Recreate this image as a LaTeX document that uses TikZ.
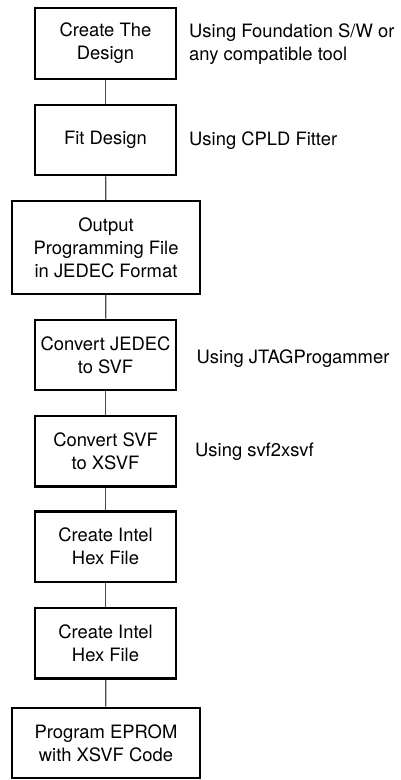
\documentclass[tikz,border=0pt]{standalone}
\usepackage{fontspec}
\setmainfont{TeX Gyre Heros}
\definecolor{linegray}{HTML}{4A4A4A}
\begin{document}
\begin{tikzpicture}[x=1pt,y=-1pt,
  txt/.style={font=\fontsize{18.4}{23}\selectfont},
  box/.style={txt, draw=black, line width=2.4pt, minimum width=141.5pt,
    minimum height=70.5pt, inner sep=0pt, align=center, fill=white},
  widebox/.style={box, minimum width=188.5pt},
  note/.style={txt, anchor=west, inner sep=0pt, align=left},
  link/.style={draw=linegray, line width=1.3pt}]
\useasboundingbox (0,0) rectangle (401,780);
\node[box]     (b1) at (105.5,43.5)  {Create The\\Design};
\node[box]     (b2) at (105.5,140)   {Fit Design};
\node[widebox, minimum height=92.5pt] (b3) at (106,247.5) {Output\\Programming File\\in JEDEC Format};
\node[box]     (b4) at (105.5,355)   {Convert JEDEC\\to SVF};
\node[box]     (b5) at (105.5,451.3) {Convert SVF\\to XSVF};
\node[box]     (b6) at (105.5,546.6) {Create Intel\\Hex File};
\node[box]     (b7) at (105.5,643.3) {Create Intel\\Hex File};
\node[widebox] (b8) at (106,743)     {Program EPROM\\with XSVF Code};

\draw[link] (b1) -- (b2);
\draw[link] (b2) -- (b3);
\draw[link] (b3) -- (b4);
\draw[link] (b4) -- (b5);
\draw[link] (b5) -- (b6);
\draw[link] (b6) -- (b7);
\draw[link] (b7) -- (b8);

\node[note] (n1) at (189,44.5)  {Using Foundation S/W or\\any compatible tool};
\node[note] (n2) at (189,141)   {Using CPLD Fitter};
\node[note] (n3) at (196.5,359) {Using JTAGProgammer};
\node[note] (n4) at (195,452)   {Using svf2xsvf};
\end{tikzpicture}
\end{document}
